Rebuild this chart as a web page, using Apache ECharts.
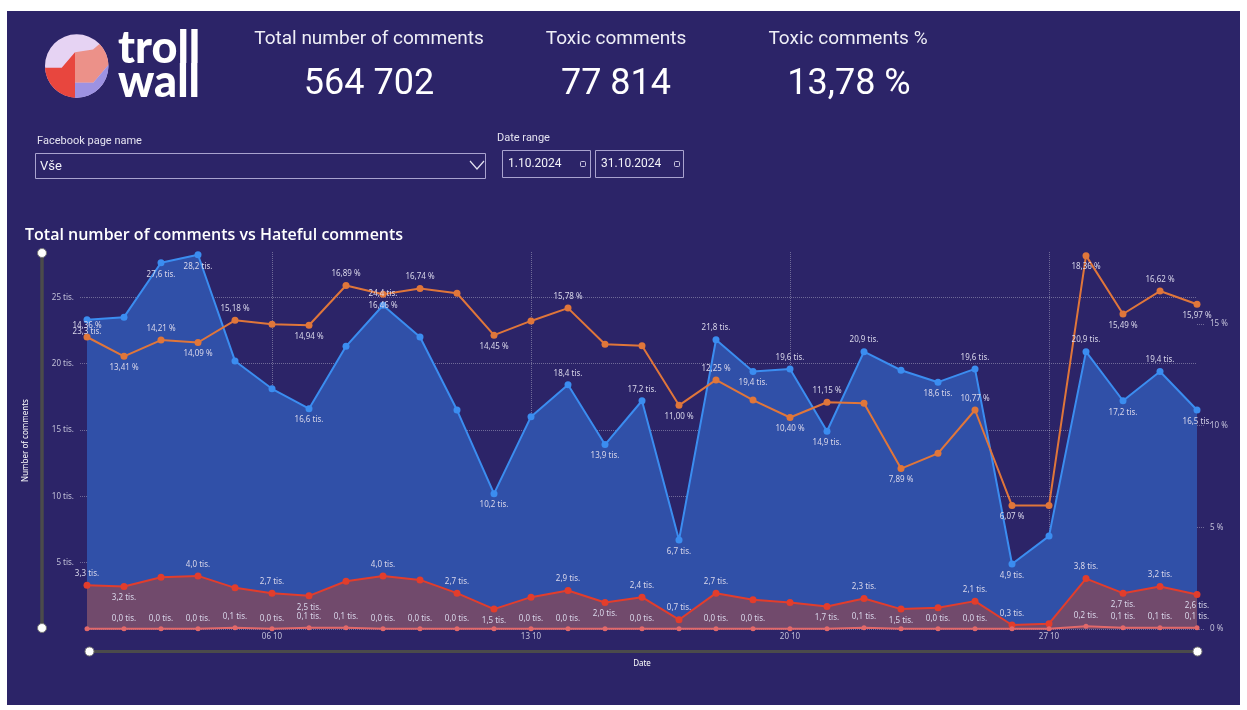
<!DOCTYPE html>
<html>
<head>
<meta charset="utf-8">
<script src="https://cdn.jsdelivr.net/npm/echarts@6/dist/echarts.min.js"></script>
<style>
  html, body { margin: 0; padding: 0; background: #fff; }
  #page { position: absolute; left: 7px; top: 11px; width: 1233px; height: 694px; background: #2c2468; }
  #main { position: absolute; left: 0; top: 0; width: 1247px; height: 710px; }
</style>
</head>
<body>
<div id="page"></div>
<div id="main"></div>
<script>
// days of October 2024
var days = ['01 10', '02 10', '03 10', '04 10', '05 10', '06 10', '07 10', '08 10', '09 10', '10 10',
  '11 10', '12 10', '13 10', '14 10', '15 10', '16 10', '17 10', '18 10', '19 10', '20 10',
  '21 10', '22 10', '23 10', '24 10', '25 10', '26 10', '27 10', '28 10', '29 10', '30 10', '31 10'];

// thousands of comments
var totalComments = [23.3, 23.5, 27.6, 28.2, 20.2, 18.1, 16.6, 21.3, 24.4, 22.0,
  16.5, 10.2, 16.0, 18.4, 13.9, 17.2, 6.7, 21.8, 19.4, 19.6,
  14.9, 20.9, 19.5, 18.6, 19.6, 4.9, 7.0, 20.9, 17.2, 19.4, 16.5];
var toxicComments = [3.3, 3.2, 3.9, 4.0, 3.1, 2.7, 2.5, 3.6, 4.0, 3.7,
  2.7, 1.5, 2.4, 2.9, 2.0, 2.4, 0.7, 2.7, 2.2, 2.0,
  1.7, 2.3, 1.5, 1.6, 2.1, 0.3, 0.4, 3.8, 2.7, 3.2, 2.6];
var hatefulComments = [0.02, 0.02, 0.02, 0.02, 0.1, 0.02, 0.1, 0.1, 0.02, 0.02,
  0.02, 0.02, 0.02, 0.02, 0.02, 0.02, 0.02, 0.02, 0.02, 0.02,
  0.02, 0.1, 0.02, 0.02, 0.02, 0.02, 0.02, 0.2, 0.1, 0.1, 0.1];
// percent
var toxicPct = [14.36, 13.41, 14.21, 14.09, 15.18, 14.99, 14.94, 16.89, 16.46, 16.74,
  16.51, 14.45, 15.15, 15.78, 14.00, 13.93, 11.00, 12.25, 11.26, 10.40,
  11.15, 11.10, 7.89, 8.64, 10.77, 6.07, 6.07, 18.36, 15.49, 16.62, 15.97];

var kpis = [
  { name: 'Total number of comments', value: '564 702' },
  { name: 'Toxic comments', value: '77 814' },
  { name: 'Toxic comments %', value: '13,78 %' }
];

// which points get a data label: t = above, b = below (days 1-10 | 11-20 | 21-31)
var totalLbl = ('b-bb--b-t-' + '-b-tbtbtbt' + 'bt-btb-tbtb').split('');
var pctLbl   = ('tbtbt-btbt' + '-b-t--bt-b' + 't-b-tb-bbtb').split('');
var toxicLbl = ('tb-t-tb-t-' + 'tb-tbttt--' + 'btb-tt-tbtb').split('');
var hateLbl  = ('-ttttttttt' + 't-tt-t-tt-' + '-t-tt--tttt').split('');

var labelFont = { color: '#d9d7ea', fontSize: 8, fontFamily: 'Noto Sans', distance: 4 };

function withLabels(values, marks) {
  return values.map(function (v, i) {
    var m = marks[i];
    if (m === 't' || m === 'b') {
      return { value: v, label: { show: true, position: m === 't' ? 'top' : 'bottom' } };
    }
    return v;
  });
}
var fmtK = function (p) { return p.value.toFixed(1).replace('.', ',') + ' tis.'; };
var fmtPct = function (p) { return p.value.toFixed(2).replace('.', ',') + ' %'; };

// logo pieces (circle split into 4 colours)
var cx = 76.7, cy = 66, r = 31.7;
function arc(a0, a1) {
  var pts = [];
  for (var i = 0; i <= 24; i++) {
    var a = (a0 + (a1 - a0) * i / 24) * Math.PI / 180;
    pts.push([cx + r * Math.cos(a), cy + r * Math.sin(a)]);
  }
  return pts;
}
var txt = function (text, x, y, size, opts) {
  opts = opts || {};
  return {
    type: 'text', x: x, y: y,
    style: {
      text: text, fill: opts.fill || '#fff',
      font: (opts.weight || 'normal') + ' ' + size + 'px ' + (opts.family || 'Roboto'),
      textAlign: opts.align || 'left', textVerticalAlign: 'middle'
    }
  };
};

var graphic = [
  { type: 'circle', shape: { cx: cx, cy: cy, r: r }, style: { fill: '#e6d3f3' } },
  { type: 'polygon', shape: { points: [[61.7, 67.7], [75, 52.3], [75, 97.7]].concat(arc(93, 177)) }, style: { fill: '#e8463e' } },
  { type: 'polygon', shape: { points: [[75, 52.3], [93, 49.5]].concat(arc(-44, -2)).concat([[93.3, 82.7], [75, 82.7]]) }, style: { fill: '#ec9189' } },
  { type: 'polygon', shape: { points: [[75, 82.7], [93.3, 82.7]].concat(arc(-2, 93)) }, style: { fill: '#9d92e2' } },
  txt('troll', 118, 48, 45, { weight: 900, family: 'Lato' }),
  txt('wall', 118, 82, 45, { weight: 900, family: 'Lato' }),

  txt(kpis[0].name, 369, 39, 19, { align: 'center', fill: '#eeeef6' }),
  txt(kpis[0].value, 369, 85, 36, { align: 'center' }),
  txt(kpis[1].name, 616, 39, 19, { align: 'center', fill: '#eeeef6' }),
  txt(kpis[1].value, 616, 85, 36, { align: 'center' }),
  txt(kpis[2].name, 848, 39, 19, { align: 'center', fill: '#eeeef6' }),
  txt(kpis[2].value, 849, 85, 36, { align: 'center' }),

  txt('Facebook page name', 37, 141, 11, { fill: '#e4e2f0' }),
  { type: 'rect', shape: { x: 35.5, y: 153.5, width: 450, height: 25 }, style: { fill: 'none', stroke: '#a9a3cf', lineWidth: 1 } },
  txt('Vše', 40, 167, 13, { fill: '#f2f2f8' }),
  { type: 'polyline', shape: { points: [[470, 161], [477, 169], [484, 161]] }, style: { fill: 'none', stroke: '#e4e2f0', lineWidth: 1.2 } },

  txt('Date range', 497, 138, 11, { fill: '#e4e2f0' }),
  { type: 'rect', shape: { x: 502.5, y: 150.5, width: 88, height: 27 }, style: { fill: 'none', stroke: '#a9a3cf', lineWidth: 1 } },
  txt('1.10.2024', 508, 164, 12, { fill: '#f2f2f8' }),
  { type: 'rect', shape: { x: 580.5, y: 161.5, width: 5, height: 5, r: 1 }, style: { fill: 'none', stroke: '#c9c5e0', lineWidth: 1 } },
  { type: 'rect', shape: { x: 595.5, y: 150.5, width: 88, height: 27 }, style: { fill: 'none', stroke: '#a9a3cf', lineWidth: 1 } },
  txt('31.10.2024', 601, 164, 12, { fill: '#f2f2f8' }),
  { type: 'rect', shape: { x: 674.5, y: 161.5, width: 5, height: 5, r: 1 }, style: { fill: 'none', stroke: '#c9c5e0', lineWidth: 1 } }
];

var weekly = function (idx) { return idx % 7 === 5; };
var dotted = { type: 'dotted', color: 'rgba(255,255,255,0.32)', width: 1 };
var axisText = { color: '#c2c0d8', fontSize: 8, fontFamily: 'Noto Sans' };

var option = {
  animation: false,
  graphic: graphic,
  title: {
    text: 'Total number of comments vs Hateful comments',
    left: 20, top: 222,
    textStyle: { color: '#fff', fontSize: 16, fontWeight: 600, fontFamily: 'Open Sans' }
  },
  grid: { left: 87, right: 50, top: 252, bottom: 81, outerBoundsMode: 'none' },
  xAxis: {
    type: 'category',
    data: days,
    boundaryGap: false,
    name: 'Date', nameLocation: 'middle', nameGap: 31,
    nameTextStyle: { color: '#fff', fontSize: 8, fontFamily: 'Noto Sans' },
    axisLine: { show: false },
    axisTick: { show: false },
    axisLabel: Object.assign({ interval: weekly, margin: 4 }, axisText),
    splitLine: { show: true, interval: weekly, lineStyle: dotted }
  },
  yAxis: [
    {
      type: 'value', min: 0, max: 28.41, interval: 5,
      name: 'Number of comments', nameLocation: 'middle', nameGap: 57,
      nameTextStyle: { color: '#fff', fontSize: 8, fontFamily: 'Noto Sans' },
      axisLine: { show: false },
      axisTick: { show: true, length: 7, lineStyle: dotted },
      axisLabel: Object.assign({ margin: 13, showMinLabel: false, showMaxLabel: false,
        formatter: function (v) { return v + ' tis.'; } }, axisText),
      splitLine: { show: true, showMaxLine: false, lineStyle: dotted }
    },
    {
      type: 'value', min: 0, max: 18.54, interval: 5,
      name: 'Toxic %', nameLocation: 'middle', nameGap: 36, nameRotate: -90,
      nameTextStyle: { color: '#fff', fontSize: 8, fontFamily: 'Noto Sans' },
      axisLine: { show: false },
      axisTick: { show: true, length: 7, lineStyle: dotted },
      axisLabel: Object.assign({ margin: 13, showMaxLabel: false,
        formatter: function (v) { return v + ' %'; } }, axisText),
      splitLine: { show: false }
    }
  ],
  dataZoom: [
    {
      type: 'slider', xAxisIndex: 0, filterMode: 'none', start: 0, end: 100,
      left: 87, right: 50, bottom: 57, height: 3,
      showDetail: false, showDataShadow: false, brushSelect: false, moveHandleSize: 0,
      backgroundColor: '#4b4b4b', fillerColor: '#4b4b4b', borderColor: 'transparent',
      handleIcon: 'circle', handleSize: '300%',
      handleStyle: { color: '#fff', borderColor: '#777', borderWidth: 1 }
    },
    {
      type: 'slider', yAxisIndex: 0, filterMode: 'none', start: 0, end: 100,
      left: 40, width: 3, top: 252, bottom: 81,
      showDetail: false, showDataShadow: false, brushSelect: false, moveHandleSize: 0,
      backgroundColor: '#4b4b4b', fillerColor: '#4b4b4b', borderColor: 'transparent',
      handleIcon: 'circle', handleSize: '300%',
      handleStyle: { color: '#fff', borderColor: '#777', borderWidth: 1 }
    }
  ],
  series: [
    {
      name: 'Total number of comments', type: 'line', yAxisIndex: 0,
      data: withLabels(totalComments, totalLbl),
      symbol: 'circle', symbolSize: 7,
      lineStyle: { color: '#3b8df0', width: 2 },
      itemStyle: { color: '#3b8df0' },
      areaStyle: { color: '#3050a8', opacity: 1 },
      label: Object.assign({ show: false, formatter: fmtK }, labelFont)
    },
    {
      name: 'Toxic comments', type: 'line', yAxisIndex: 0,
      data: withLabels(toxicComments, toxicLbl),
      symbol: 'circle', symbolSize: 7,
      lineStyle: { color: '#e23d2c', width: 2 },
      itemStyle: { color: '#e23d2c' },
      areaStyle: { color: '#714a6c', opacity: 1 },
      label: Object.assign({ show: false, formatter: fmtK }, labelFont)
    },
    {
      name: 'Hateful comments', type: 'line', yAxisIndex: 0,
      data: withLabels(hatefulComments, hateLbl),
      symbol: 'circle', symbolSize: 5,
      lineStyle: { color: '#e2696a', width: 2 },
      itemStyle: { color: '#e2696a' },
      label: Object.assign({ show: false, formatter: fmtK }, labelFont)
    },
    {
      name: 'Toxic comments %', type: 'line', yAxisIndex: 1,
      data: withLabels(toxicPct, pctLbl),
      symbol: 'circle', symbolSize: 7,
      lineStyle: { color: '#e0763a', width: 2 },
      itemStyle: { color: '#e0763a' },
      label: Object.assign({ show: false, formatter: fmtPct }, labelFont)
    }
  ]
};

var myChart = echarts.init(document.getElementById('main'));
myChart.setOption(option);
</script>
</body>
</html>
